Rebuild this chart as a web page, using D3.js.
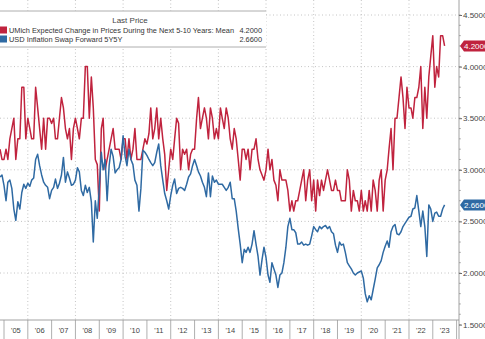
<!DOCTYPE html>
<html>
<head>
<meta charset="utf-8">
<script src="https://d3js.org/d3.v7.min.js"></script>
<style>
  body { margin: 0; background: #fff; }
  svg { display: block; font-family: "Liberation Sans", Arial, sans-serif; }
</style>
</head>
<body>
<div id="chart"></div>
<script>
// monthly series, first point is Nov 2004
var startYear = 2004, startMonth = 10;

var umichMean = [
  3.2,3.1,3.1,3.2,3.1,3.3,3.4,3.5,3.1,3.3,3.3,3.8,3.8,3.3,3.5,3.4,3.3,3.3,3.8,3.6,
  3.4,3.2,3.5,3.2,3.5,3.5,3.45,3.5,3.3,3.3,3.5,3.7,3.6,3.4,3.3,3.4,3.1,3.4,3.5,3.4,
  3.3,3.5,3.5,4.0,4.0,3.5,3.9,3.6,3.1,3.05,2.6,3.4,3.5,3.0,3.1,3.2,3.3,3.4,3.2,3.2,
  3.2,3.1,3.3,3.3,3.1,3.3,3.1,3.2,3.4,3.1,3.1,3.1,3.2,3.3,3.25,3.35,3.6,3.3,3.4,3.6,
  3.3,3.5,3.3,3.15,2.8,3.0,3.2,3.1,3.3,3.5,3.45,3.0,3.2,3.15,3.2,3.0,3.15,3.2,3.2,3.5,
  3.7,3.4,3.5,3.6,3.5,3.3,3.6,3.5,3.3,3.4,3.3,3.6,3.5,3.4,3.6,3.5,3.3,3.2,3.4,3.3,
  3.1,2.9,3.2,3.2,3.1,3.2,3.0,3.2,3.2,3.3,3.1,3.0,2.95,2.9,3.0,3.2,3.0,3.1,2.9,2.85,
  2.7,3.0,2.9,2.9,2.9,2.8,2.6,2.7,2.6,2.7,2.7,2.8,2.9,3.0,2.7,2.9,3.0,2.7,2.9,2.6,
  2.9,2.75,2.9,2.8,2.9,3.0,2.9,2.8,2.8,2.9,2.8,2.8,2.7,2.7,2.7,3.0,2.9,2.6,2.8,2.7,
  2.7,2.6,2.8,2.6,2.7,2.6,2.8,2.6,2.9,2.8,2.6,2.9,3.0,2.6,2.9,3.0,3.2,3.4,3.0,3.5,
  3.5,3.7,3.9,3.7,3.4,3.8,3.6,3.6,3.5,3.7,3.7,3.8,4.0,3.4,3.8,3.5,3.9,4.1,4.3,3.8,
  4.0,3.9,4.3,4.3,4.2
];

var swap5y5y = [
  2.93,2.95,2.85,2.7,2.88,2.9,2.82,2.62,2.51,2.69,2.62,2.78,2.86,2.82,2.87,2.84,2.9,2.92,3.1,3.15,
  3.04,2.95,2.88,2.85,2.83,2.72,2.8,2.83,2.91,2.82,2.87,2.95,3.12,2.88,2.98,2.92,2.85,2.86,2.9,3.02,
  2.98,2.8,2.75,2.85,2.78,2.83,2.69,2.3,2.7,2.53,2.83,3.17,3.0,3.1,2.7,3.04,3.2,3.13,2.97,3.0,
  3.02,3.1,3.33,3.13,3.04,3.2,3.1,3.05,2.9,2.85,2.6,2.82,3.19,3.17,3.14,3.1,3.07,3.04,3.07,3.17,
  3.25,3.04,2.9,2.77,2.7,2.62,2.75,2.85,2.91,2.77,2.82,2.83,2.82,2.8,2.86,2.93,2.96,3.04,3.1,3.04,
  2.98,2.94,2.88,2.83,2.74,2.97,2.74,2.94,2.88,2.9,2.86,2.86,2.86,2.83,2.8,2.83,2.88,2.72,2.72,2.6,
  2.43,2.28,2.1,2.23,2.2,2.25,2.2,2.28,2.41,2.28,2.16,1.98,2.13,2.25,2.15,1.98,1.91,2.1,2.04,1.98,
  1.86,1.98,2.0,2.1,2.25,2.45,2.53,2.42,2.42,2.39,2.28,2.28,2.3,2.27,2.28,2.27,2.28,2.36,2.45,2.42,
  2.4,2.45,2.43,2.45,2.46,2.43,2.45,2.4,2.38,2.27,2.2,2.3,2.27,2.28,2.2,2.1,2.07,2.04,2.0,1.98,
  2.0,2.01,2.02,1.95,1.8,1.72,1.78,1.74,1.84,1.94,2.05,2.08,2.12,2.2,2.26,2.31,2.25,2.4,2.45,2.47,
  2.38,2.37,2.4,2.45,2.48,2.51,2.54,2.55,2.62,2.63,2.75,2.6,2.45,2.6,2.45,2.16,2.66,2.62,2.5,2.58,
  2.59,2.55,2.55,2.62,2.66
];

var yearLabels = ["'05","'06","'07","'08","'09","'10","'11","'12","'13","'14",
                  "'15","'16","'17","'18","'19","'20","'21","'22","'23"];
var yTicks = [2.0, 2.5, 3.0, 3.5, 4.0, 4.5];
var gridYears = [2006, 2008, 2010, 2012, 2014, 2016, 2018, 2020, 2022];

var seriesNames = ["UMich Expected Change in Prices During the Next 5-10 Years: Mean",
                   "USD Inflation Swap Forward 5Y5Y"];
var lastValues = ["4.2000", "2.6600"];
var colors = ["#c0233e", "#2f6aa3"];

var W = 485, H = 339;
var plotRight = 459, plotBottom = 320;

var svg = d3.select("#chart").append("svg")
    .attr("width", W).attr("height", H);

var x = d3.scaleTime()
    .domain([new Date(2005, 0, 1), new Date(2024, 0, 1)])
    .range([4, 456.6]);
var y = d3.scaleLinear()
    .domain([2.0, 4.5])
    .range([273, 15]);

function toDate(i) { return new Date(startYear, startMonth + i, 1); }

// grid
svg.append("g").selectAll("line")
    .data(yTicks).enter().append("line")
    .attr("x1", 0).attr("x2", plotRight)
    .attr("y1", function(d) { return y(d); }).attr("y2", function(d) { return y(d); })
    .attr("stroke", "#b5b5b5").attr("stroke-width", 0.8)
    .attr("stroke-dasharray", "1,2.5");

svg.append("g").selectAll("line")
    .data(gridYears).enter().append("line")
    .attr("x1", function(d) { return x(new Date(d, 0, 1)); })
    .attr("x2", function(d) { return x(new Date(d, 0, 1)); })
    .attr("y1", 0).attr("y2", plotBottom)
    .attr("stroke", "#b5b5b5").attr("stroke-width", 0.8)
    .attr("stroke-dasharray", "1,2.5");

// clip
svg.append("clipPath").attr("id", "plotclip")
  .append("rect").attr("x", 0).attr("y", 0).attr("width", plotRight).attr("height", plotBottom);

var line = d3.line()
    .x(function(d, i) { return x(toDate(i)); })
    .y(function(d) { return y(d); });

var lines = svg.append("g").attr("clip-path", "url(#plotclip)");
lines.append("path").datum(umichMean)
    .attr("fill", "none").attr("stroke", colors[0]).attr("stroke-width", 1.5)
    .attr("stroke-linejoin", "round").attr("d", line);
lines.append("path").datum(swap5y5y)
    .attr("fill", "none").attr("stroke", colors[1]).attr("stroke-width", 1.5)
    .attr("stroke-linejoin", "round").attr("d", line);

// right axis
svg.append("line").attr("x1", plotRight).attr("x2", plotRight)
    .attr("y1", 0).attr("y2", H).attr("stroke", "#8a8a8a").attr("stroke-width", 0.8);

var yAxis = d3.axisRight(y)
    .tickValues(yTicks.concat([1.5]))
    .tickFormat(d3.format(".4f"))
    .tickSize(3).tickPadding(1);
var yg = svg.append("g").attr("transform", "translate(" + plotRight + ",0)").call(yAxis);
yg.select(".domain").remove();
yg.selectAll("line").attr("stroke", "#666");
yg.selectAll("text").attr("fill", "#444").style("font-size", "8px")
    .style("font-family", "'Liberation Sans', Arial, sans-serif");

var minor = d3.range(15, 46).map(function(d) { return d / 10; });
svg.append("g").selectAll("line").data(minor).enter().append("line")
    .attr("x1", plotRight).attr("x2", plotRight + 1.8)
    .attr("y1", function(d) { return y(d); }).attr("y2", function(d) { return y(d); })
    .attr("stroke", "#888").attr("stroke-width", 0.7);

// last price tags
var tagVals = [umichMean[umichMean.length - 1], swap5y5y[swap5y5y.length - 1]];
tagVals.forEach(function(v, k) {
    var yy = y(v);
    svg.append("path")
        .attr("d", "M" + (plotRight + 1) + "," + yy + "L" + (plotRight + 5) + "," + (yy - 5.5) +
              "L" + W + "," + (yy - 5.5) + "L" + W + "," + (yy + 5.5) + "L" + (plotRight + 5) + "," + (yy + 5.5) + "Z")
        .attr("fill", colors[k]);
    svg.append("text").attr("x", plotRight + 5).attr("y", yy + 3)
        .attr("fill", "#fff").style("font-size", "8px")
        .text(lastValues[k]);
});

// bottom axis
svg.append("line").attr("x1", 0).attr("x2", plotRight)
    .attr("y1", plotBottom).attr("y2", plotBottom)
    .attr("stroke", "#8a8a8a").attr("stroke-width", 0.8);

var sepYears = d3.range(2005, 2025);
svg.append("g").selectAll("line").data(sepYears).enter().append("line")
    .attr("x1", function(d) { return x(new Date(d, 0, 1)); })
    .attr("x2", function(d) { return x(new Date(d, 0, 1)); })
    .attr("y1", plotBottom).attr("y2", H)
    .attr("stroke", "#9a9a9a").attr("stroke-width", 0.8);

svg.append("g").selectAll("text").data(yearLabels).enter().append("text")
    .attr("x", function(d, i) { return (x(new Date(2005 + i, 0, 1)) + x(new Date(2006 + i, 0, 1))) / 2; })
    .attr("y", 333)
    .attr("text-anchor", "middle")
    .attr("fill", "#444").style("font-size", "7.5px")
    .text(function(d) { return d; });

// legend
var lg = svg.append("g");
lg.append("rect").attr("x", 0).attr("y", 11).attr("width", 266).attr("height", 36)
    .attr("fill", "#fff");
lg.append("line").attr("x1", 0).attr("x2", 266).attr("y1", 11).attr("y2", 11)
    .attr("stroke", "#999").attr("stroke-width", 0.8);
lg.append("line").attr("x1", 0).attr("x2", 266).attr("y1", 47).attr("y2", 47)
    .attr("stroke", "#999").attr("stroke-width", 0.8);
lg.append("text").attr("x", 130).attr("y", 23).attr("text-anchor", "middle")
    .attr("fill", "#444").style("font-size", "8px").text("Last Price");

seriesNames.forEach(function(name, k) {
    var ry = 30 + k * 9;
    lg.append("rect").attr("x", 0).attr("y", ry - 3.5).attr("width", 7).attr("height", 7)
        .attr("fill", colors[k]);
    var t = lg.append("text").attr("x", 9).attr("y", ry + 3)
        .attr("fill", "#333").style("font-size", "7.4px").text(name);
    if (k === 0) t.attr("textLength", 225).attr("lengthAdjust", "spacingAndGlyphs");
    lg.append("text").attr("x", 262).attr("y", ry + 3).attr("text-anchor", "end")
        .attr("fill", "#333").style("font-size", "7.4px").text(lastValues[k]);
});
</script>
</body>
</html>
